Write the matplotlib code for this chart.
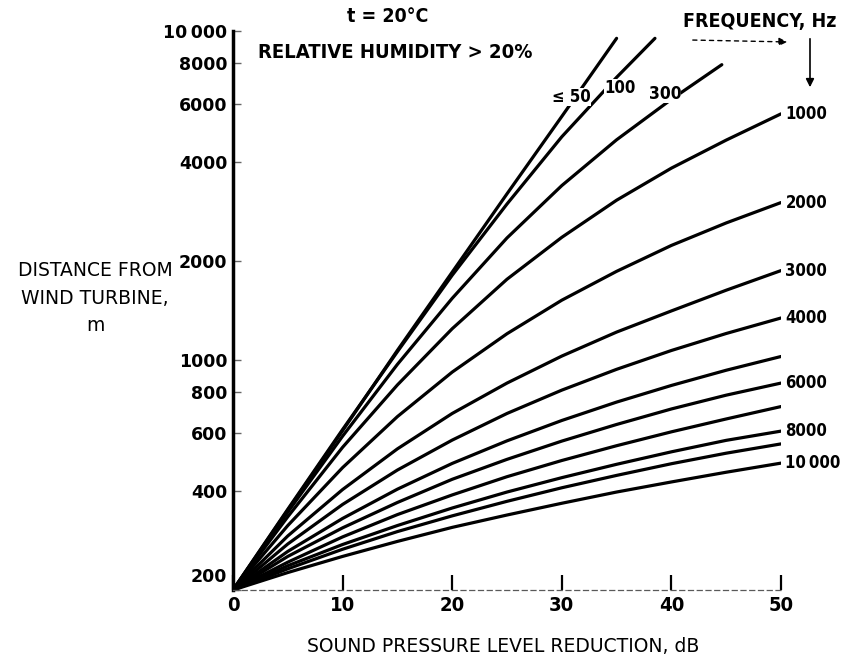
import matplotlib
matplotlib.use("Agg")
import matplotlib.pyplot as plt
from matplotlib.ticker import NullLocator
from matplotlib.transforms import ScaledTranslation

# Sound pressure level reduction (dB) sample points
spl = [0, 5, 10, 15, 20, 25, 30, 35, 40, 45, 50]
spl_50 = [0, 5, 10, 15, 20, 25, 30, 35]
spl_100 = [0, 5, 10, 15, 20, 25, 30, 35, 38.5]
spl_300 = [0, 5, 10, 15, 20, 25, 30, 35, 40, 44.6]

# Distance from wind turbine (m) per frequency
dist_50 = [200, 350, 610, 1070, 1850, 3200, 5500, 9500]
dist_100 = [200, 352, 615, 1060, 1810, 2980, 4770, 7230, 9500]
dist_300 = [200, 345, 587, 970, 1540, 2350, 3390, 4670, 6200, 7900]
dist_1000 = [200, 334, 543, 840, 1245, 1760, 2360, 3060, 3830, 4660, 5600]
dist_2000 = [200, 314, 471, 673, 919, 1202, 1520, 1860, 2230, 2610, 3010]
dist_3000 = [200, 292, 404, 537, 688, 851, 1028, 1216, 1410, 1630, 1870]
dist_4000 = [200, 276, 364, 463, 571, 688, 810, 937, 1069, 1204, 1342]
dist_5000 = [200, 262, 330, 405, 485, 568, 655, 745, 837, 931, 1025]
dist_6000 = [200, 253, 309, 369, 434, 499, 567, 637, 710, 782, 851]
dist_7000 = [200, 243, 290, 339, 389, 442, 495, 549, 605, 662, 722]
dist_8000 = [200, 237, 275, 314, 355, 397, 439, 482, 526, 570, 608]
dist_9000 = [200, 232, 266, 301, 336, 372, 409, 446, 484, 521, 556]
dist_10000 = [200, 226, 253, 281, 310, 338, 367, 397, 426, 456, 486]

right_labels = ["1000", "2000", "3000", "4000", "", "6000", "", "8000", "", "10\u2009000"]
right_curves = [dist_1000, dist_2000, dist_3000, dist_4000, dist_5000,
                dist_6000, dist_7000, dist_8000, dist_9000, dist_10000]

ytick_vals = [200, 400, 600, 800, 1000, 2000, 4000, 6000, 8000, 10000]
ytick_labels = ["200", "400", "600", "800", "1000", "2000", "4000", "6000", "8000", "10\u2009000"]
xtick_vals = [0, 10, 20, 30, 40, 50]

W, H = 841, 664
# bold, narrow lettering of the original
LETTER = dict(family="DejaVu Sans", fontweight="bold", fontstretch="condensed")


def fx(px):
    return px / W


def fy(py):
    return 1 - py / H


fig = plt.figure(figsize=(8.41, 6.64), dpi=100)
ax = fig.add_axes([fx(233), fy(590), (781 - 233) / W, (590 - 31) / H])
ax.set_yscale("log")
ax.set_xlim(0, 50)
ax.set_ylim(200, 10000)

ax.spines["top"].set_visible(False)
ax.spines["right"].set_visible(False)
ax.spines["left"].set_linewidth(2.5)
ax.spines["bottom"].set_linestyle((0, (4, 3)))
ax.spines["bottom"].set_linewidth(0.9)
ax.spines["bottom"].set_color("0.35")

ax.set_yticks(ytick_vals)
ax.set_yticklabels(ytick_labels)
ax.yaxis.set_minor_locator(NullLocator())
ax.set_xticks(xtick_vals)
ax.tick_params(axis="y", direction="in", length=6, width=1, color="0.4", pad=4)
ax.tick_params(axis="x", direction="in", length=11, width=1.6, color="black", pad=4)
for t in ax.get_yticklabels():
    t.set_fontfamily("DejaVu Sans")
    t.set_fontweight("bold")
    t.set_fontsize(12.5)
for t in ax.get_xticklabels():
    t.set_fontfamily("DejaVu Sans")
    t.set_fontweight("bold")
    t.set_fontstretch("condensed")
    t.set_fontsize(14.5)
# the "200" label sits a little above the axis line
lbl200 = ax.get_yticklabels()[0]
lbl200.set_transform(lbl200.get_transform() + ScaledTranslation(0, 11 / 72, fig.dpi_scale_trans))

lw = 2.3
ax.plot(spl_50, dist_50, color="black", lw=lw, solid_capstyle="round")
ax.plot(spl_100, dist_100, color="black", lw=lw, solid_capstyle="round")
ax.plot(spl_300, dist_300, color="black", lw=lw, solid_capstyle="round")
for d, lab in zip(right_curves, right_labels):
    ax.plot(spl, d, color="black", lw=lw, solid_capstyle="round")
    if lab:
        ax.text(50.4, d[-1], lab, ha="left", va="center", fontsize=12,
                clip_on=False, **LETTER)

box = dict(facecolor="white", edgecolor="none", pad=0.3)
ax.text(30.9, 6300, "\u2264 50", ha="center", va="center", fontsize=12,
        bbox=box, zorder=6, **LETTER)
ax.text(35.3, 6700, "100", ha="center", va="center", fontsize=12,
        bbox=box, zorder=5, **LETTER)
ax.text(39.4, 6430, "300", ha="center", va="center", fontsize=12.5,
        bbox=box, zorder=5, **LETTER)

# Header texts
fig.text(fx(388), fy(17), "t = 20\u00b0C", ha="center", va="center",
         fontsize=14, **LETTER)
fig.text(fx(258), fy(52), "RELATIVE HUMIDITY > 20%", ha="left", va="center",
         fontsize=14.5, **LETTER)
fig.text(fx(683), fy(22), "FREQUENCY, Hz", ha="left", va="center",
         fontsize=14, **LETTER)

# Arrows near the frequency heading
ax.annotate("", xy=(fx(790), fy(42)), xytext=(fx(690), fy(40)),
            xycoords="figure fraction", textcoords="figure fraction",
            arrowprops=dict(arrowstyle="-|>", linestyle=(0, (3, 3)), lw=1,
                            color="black", mutation_scale=12))
ax.annotate("", xy=(fx(810), fy(90)), xytext=(fx(810), fy(36)),
            xycoords="figure fraction", textcoords="figure fraction",
            arrowprops=dict(arrowstyle="-|>", lw=1.2, color="black",
                            mutation_scale=12))

# Axis titles
fig.text(fx(95), fy(298), "DISTANCE FROM\nWIND TURBINE,\nm", ha="center",
         va="center", multialignment="center", fontsize=13.5, linespacing=1.55,
         family="DejaVu Sans")
fig.text(fx(503), fy(647), "SOUND PRESSURE LEVEL REDUCTION, dB", ha="center",
         va="center", fontsize=13.5, family="DejaVu Sans")

fig.savefig("out.png", dpi=100)
